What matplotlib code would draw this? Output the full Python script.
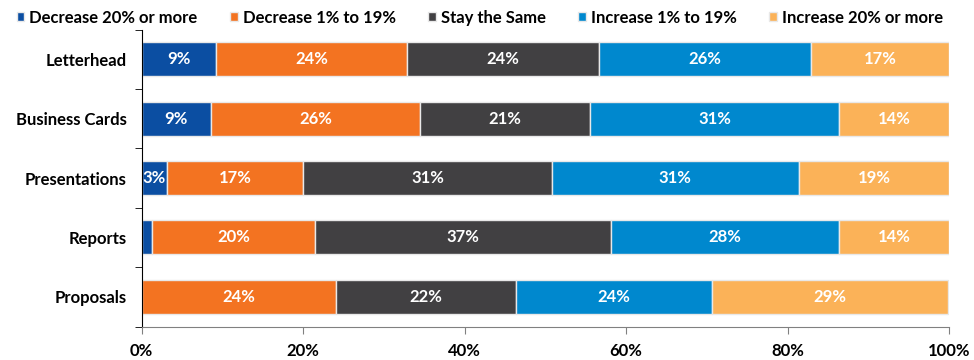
import matplotlib
matplotlib.use("Agg")
import matplotlib.pyplot as plt
import numpy as np

# Categories, top to bottom
categories = ["Letterhead", "Business Cards", "Presentations", "Reports", "Proposals"]

# Share of respondents (%) per answer, same order as categories
dec_20 = [9.2, 8.6, 3.1, 1.3, 0.0]
dec_1_19 = [23.7, 25.9, 16.9, 20.2, 24.1]
same = [23.7, 21.0, 30.8, 36.6, 22.3]
inc_1_19 = [26.3, 30.9, 30.6, 28.3, 24.2]
inc_20 = [17.1, 13.6, 18.6, 13.6, 29.3]

series = [
    ("Decrease 20% or more", dec_20, "#0B4EA2"),
    ("Decrease 1% to 19%", dec_1_19, "#F37321"),
    ("Stay the Same", same, "#414042"),
    ("Increase 1% to 19%", inc_1_19, "#0088CE"),
    ("Increase 20% or more", inc_20, "#FBB258"),
]

plt.rcParams['font.family'] = ['Lato', 'DejaVu Sans']
plt.rcParams['font.weight'] = 'bold'

fig = plt.figure(figsize=(9.74, 3.6), dpi=100)
ax = fig.add_axes([0.1455, 0.093, 0.8288, 0.825])

y = np.arange(len(categories))
left = np.zeros(len(categories))
for name, vals, col in series:
    vals = np.array(vals)
    ax.barh(y, vals, left=left, height=0.57, color=col, edgecolor="#E8E8E8",
            linewidth=1, label=name)
    for yi, v, l in zip(y, vals, left):
        if v >= 2:
            ax.text(l + v / 2, yi, "%d%%" % round(v), ha="center", va="center",
                    color="white", fontsize=12, fontweight="bold")
    left = left + vals

ax.set_xlim(0, 100)
ax.set_ylim(len(categories) - 0.5, -0.5)
ax.set_yticks(y)
ax.set_yticklabels(categories, fontsize=12, fontweight="bold")
ax.set_yticks(np.arange(len(categories) + 1) - 0.5, minor=True)
ax.tick_params(axis="y", which="major", length=0, pad=11)
ax.tick_params(axis="y", which="minor", length=5, color="black")
ax.set_xticks([0, 20, 40, 60, 80, 100])
ax.set_xticklabels(["0%", "20%", "40%", "60%", "80%", "100%"], fontsize=12,
                   fontweight="bold")
ax.tick_params(axis="x", length=5, color="#808080", pad=7)

ax.spines["top"].set_visible(False)
ax.spines["right"].set_visible(False)
ax.spines["left"].set_color("black")
ax.spines["bottom"].set_color("#808080")

handles, labels = ax.get_legend_handles_labels()
leg = fig.legend(handles, labels, loc="upper left", bbox_to_anchor=(0.002, 1.015),
                 ncol=5, frameon=False, fontsize=12, handlelength=0.45,
                 handleheight=0.45, handletextpad=0.3, columnspacing=1.95)

fig.savefig("out.png", dpi=100)
